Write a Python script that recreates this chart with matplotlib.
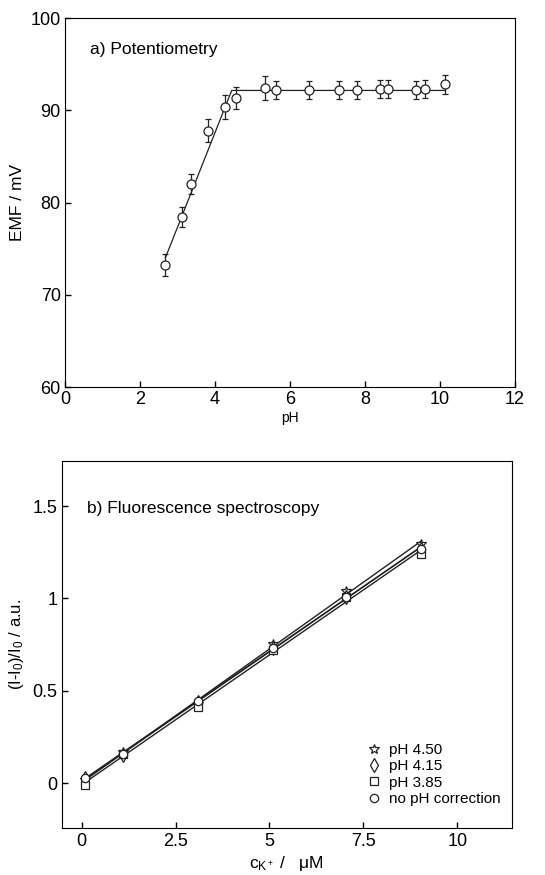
import numpy as np
import matplotlib
matplotlib.use('Agg')
import matplotlib.pyplot as plt

plt.rcParams['font.family'] = ['Liberation Sans', 'DejaVu Sans']
plt.rcParams['mathtext.fontset'] = 'custom'
plt.rcParams['mathtext.rm'] = 'Liberation Sans'
plt.rcParams['mathtext.it'] = 'Liberation Sans'
plt.rcParams['mathtext.default'] = 'regular'

# a) potentiometry
ph = [2.66, 3.12, 3.37, 3.83, 4.26, 4.57, 5.35, 5.62, 6.5, 7.3, 7.8, 8.4, 8.63, 9.36, 9.6, 10.15]
emf = [73.2, 78.4, 82.0, 87.8, 90.4, 91.3, 92.4, 92.2, 92.2, 92.2, 92.2, 92.3, 92.3, 92.2, 92.3, 92.8]
emf_err = [1.2, 1.1, 1.1, 1.2, 1.3, 1.2, 1.3, 1.0, 1.0, 1.0, 1.0, 1.0, 1.0, 1.0, 1.0, 1.0]
fit_ph = [2.68, 4.45, 10.15]
fit_emf = [74.0, 92.15, 92.15]

# b) fluorescence
conc = [0.1, 1.1, 3.1, 5.1, 7.05, 9.03]
series_names = ['pH 4.50', 'pH 4.15', 'pH 3.85', 'no pH correction']
series_vals = [
    [0.015, 0.17, 0.43, 0.753, 1.04, 1.294],
    [0.03, 0.15, 0.44, 0.73, 1.01, 1.27],
    [-0.01, 0.16, 0.414, 0.72, 1.006, 1.238],
    [0.03, 0.16, 0.445, 0.73, 1.01, 1.27],
]
series_markers = ['*', 'd', 's', 'o']
series_sizes = [7.5, 7, 5.5, 6]


def main():
    fig = plt.figure(figsize=(5.45, 8.75), dpi=100)

    ax1 = fig.add_axes([0.119, 0.5577, 0.8257, 0.4217])
    ax1.plot(fit_ph, fit_emf, color='#222222', lw=0.9, zorder=1)
    ax1.errorbar(ph, emf, yerr=emf_err, fmt='o', ms=6.5, mfc='white', mec='#222222',
                 mew=0.9, ecolor='#222222', elinewidth=0.9, capsize=2.5, capthick=0.9, zorder=2)
    ax1.set_xlim(0, 12)
    ax1.set_ylim(60, 100)
    ax1.set_xticks(range(0, 13, 2))
    ax1.set_yticks(range(60, 101, 10))
    ax1.tick_params(direction='in', length=4, labelsize=13, width=1, pad=3)
    ax1.set_xlabel('pH', fontsize=10, labelpad=2)
    ax1.set_ylabel('EMF / mV', fontsize=12.5, labelpad=4)
    ax1.text(0.056, 0.915, 'a) Potentiometry', transform=ax1.transAxes, fontsize=12.5,
             va='center', ha='left')

    ax2 = fig.add_axes([0.1132, 0.0533, 0.8257, 0.4201])
    for name, vals, m, s in zip(series_names, series_vals, series_markers, series_sizes):
        k, b = np.polyfit(conc, vals, 1)
        xs = np.array([conc[0], conc[-1]])
        ax2.plot(xs, k * xs + b, color='#222222', lw=1.0, zorder=1)
        ax2.plot(conc, vals, ls='none', marker=m, ms=s, mfc='white', mec='#222222', mew=0.9,
                 label=name, zorder=2)
    ax2.set_xlim(-0.53, 11.45)
    ax2.set_ylim(-0.245, 1.745)
    ax2.set_xticks([0, 2.5, 5, 7.5, 10])
    ax2.set_xticklabels(['0', '2.5', '5', '7.5', '10'])
    ax2.set_yticks([0, 0.5, 1, 1.5])
    ax2.set_yticklabels(['0', '0.5', '1', '1.5'])
    ax2.tick_params(direction='in', length=4, labelsize=13, width=1, pad=3)
    ax2.set_xlabel('c$_{K^+}$ /   μM', fontsize=12.5, labelpad=3)
    ax2.set_ylabel('(I-I$_0$)/I$_0$ / a.u.', fontsize=12, labelpad=5)
    ax2.text(0.057, 0.87, 'b) Fluorescence spectroscopy', transform=ax2.transAxes, fontsize=12.5,
             va='center', ha='left')
    ax2.legend(loc='lower left', bbox_to_anchor=(0.66, 0.04), frameon=False, fontsize=11,
               handlelength=1.0, handletextpad=0.5, labelspacing=0.15, borderpad=0)

    fig.savefig('out.png', dpi=100)


if __name__ == '__main__':
    main()
